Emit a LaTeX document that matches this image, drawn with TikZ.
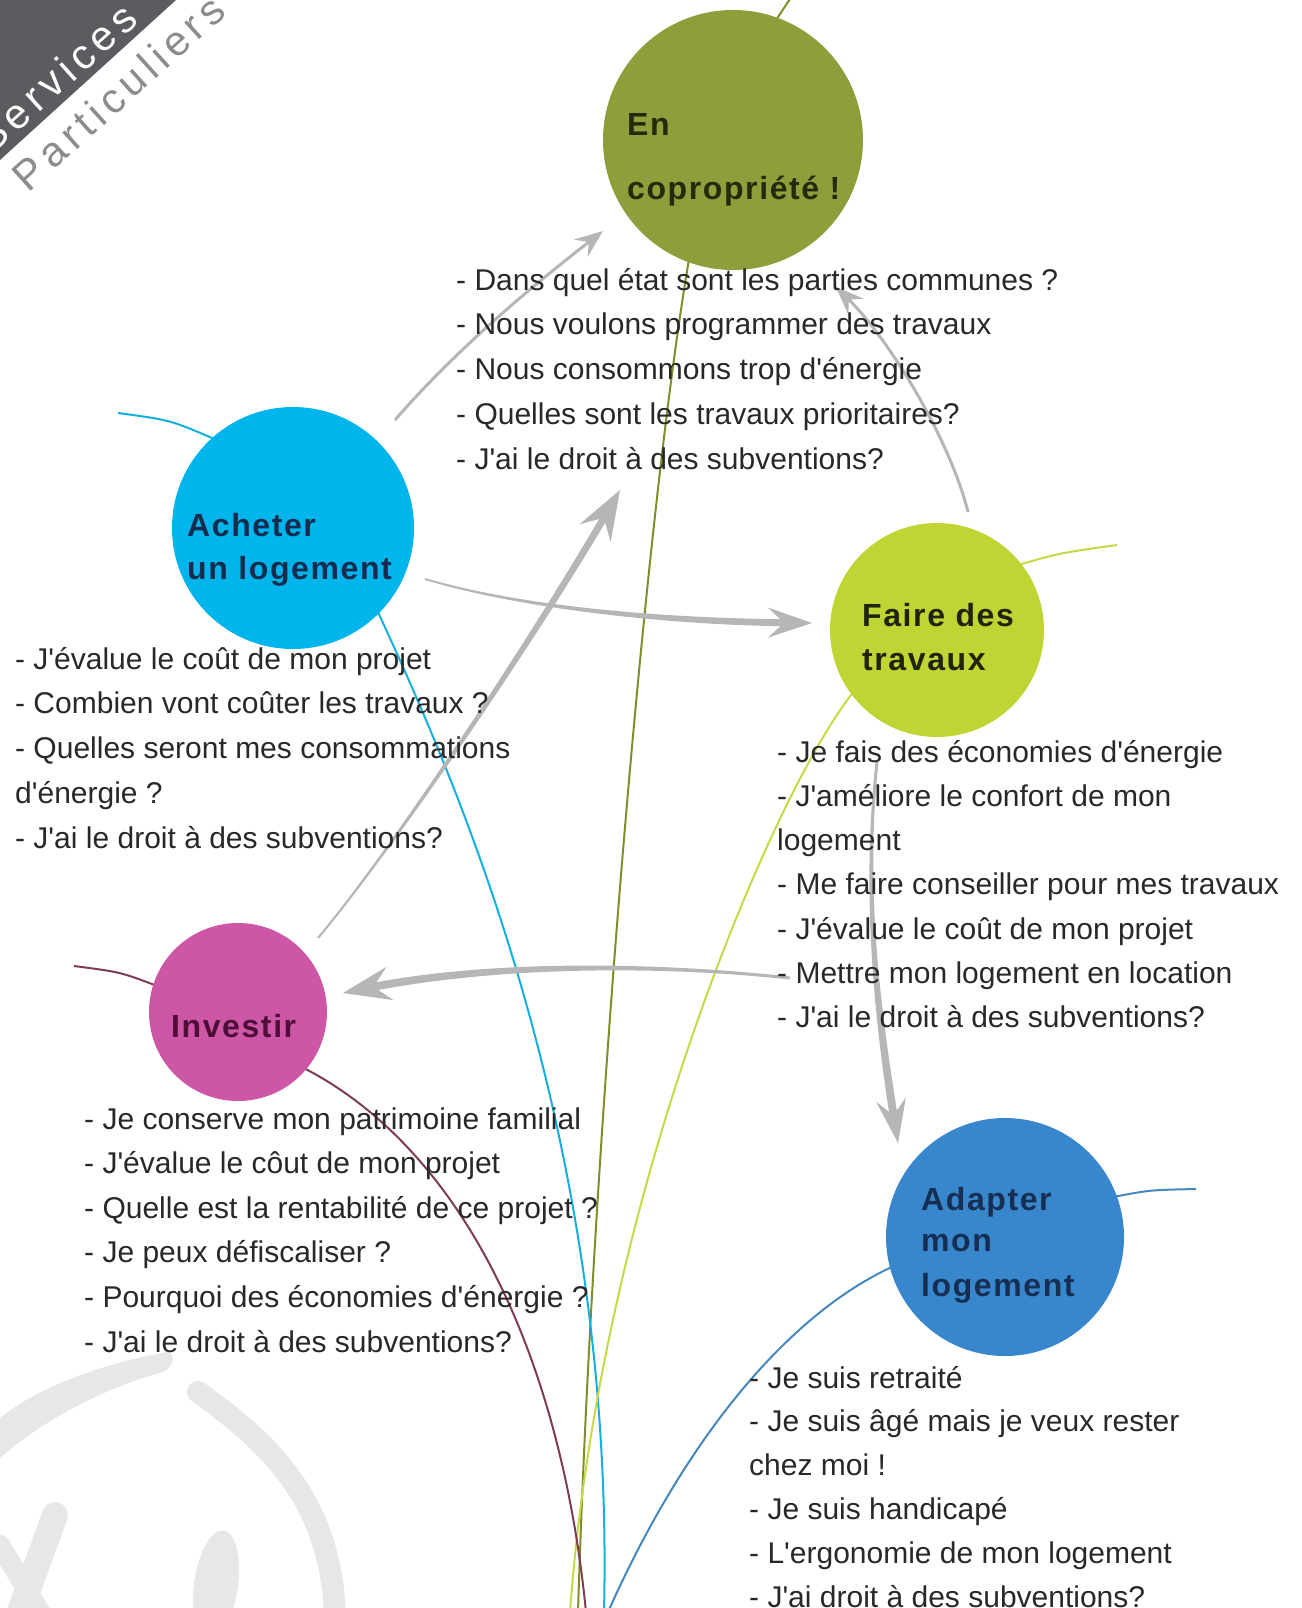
\documentclass[tikz,border=0pt]{standalone}
\usepackage{fontspec}
\setmainfont{Liberation Sans}[Ligatures=TeXOff]
\newfontfamily\labelfont{Liberation Sans}[LetterSpace=5,Ligatures=TeXOff]
\newfontfamily\logofont{Liberation Sans}[LetterSpace=13]
\usetikzlibrary{arrows.meta,calc}
\pgfdeclarelayer{bg}
\pgfsetlayers{bg,main}
\definecolor{copro}{RGB}{143,158,58}
\definecolor{achat}{RGB}{0,180,236}
\definecolor{trav}{RGB}{192,212,52}
\definecolor{inv}{RGB}{205,86,166}
\definecolor{adapt}{RGB}{56,134,204}
\definecolor{coprotxt}{RGB}{38,42,12}
\definecolor{achattxt}{RGB}{22,44,78}
\definecolor{travtxt}{RGB}{32,36,14}
\definecolor{invtxt}{RGB}{78,14,56}
\definecolor{adapttxt}{RGB}{22,46,82}
\definecolor{brcopro}{RGB}{128,142,42}
\definecolor{brachat}{RGB}{20,175,225}
\definecolor{brtrav}{RGB}{200,216,70}
\definecolor{brinv}{RGB}{125,60,80}
\definecolor{bradapt}{RGB}{70,135,190}
\definecolor{arrowgray}{RGB}{182,182,182}
\definecolor{logogray}{RGB}{92,92,96}
\definecolor{logotxt}{RGB}{140,140,142}
\definecolor{wm}{RGB}{231,231,233}
\definecolor{itemtxt}{RGB}{40,40,40}
\newcommand\grayarrow[7]{%
  \coordinate (tS) at (#1); \coordinate (tA) at (#2);
  \coordinate (tB) at (#3); \coordinate (tE) at (#4);
  \coordinate (tF) at ($(tE)!#7!(tB)$);
  \fill[arrowgray] ($(tS)!#5!90:(tA)$) .. controls ($(tA)!#5!-90:(tS)$) and ($(tB)!#6!90:(tF)$) .. ($(tF)!#6!-90:(tB)$)
    -- ($(tF)!#6!90:(tB)$) .. controls ($(tB)!#6!-90:(tF)$) and ($(tA)!#5!90:(tS)$) .. ($(tS)!#5!-90:(tA)$) -- cycle;
}
\begin{document}
\begin{tikzpicture}[x=1pt,y=-1pt,
  bubble/.style={circle, inner sep=0pt, draw=none},
  lbl/.style={anchor=base west, inner sep=0pt, font=\labelfont\bfseries\fontsize{32}{36}\selectfont},
  item/.style={anchor=base west, inner sep=0pt, text=itemtxt, font=\fontsize{30}{36}\selectfont},
  branch/.style={line width=2pt},
  thinarrow/.style={arrowgray, line width=3pt, -{Stealth[length=28pt,width=22pt,inset=10pt]}},
  tiparrow/.style={arrowgray, line width=1pt}
]
\useasboundingbox (0,0) rectangle (1301,1608);

% watermark
\fill[wm] (167,1352) .. controls (110,1362) and (40,1385) .. (0,1418) -- (0,1458)
  .. controls (45,1418) and (110,1386) .. (160,1373) .. controls (174,1369) and (177,1354) .. (167,1352) -- cycle;
\draw[wm, line width=22pt, line cap=round] (198,1392) .. controls (265,1440) and (335,1500) .. (335,1625);
\fill[wm, rotate around={-8:(216,1585)}] (216,1585) ellipse [x radius=22, y radius=55];
\draw[wm, line width=26pt, line cap=round] (55,1515) -- (15,1625);
\draw[wm, line width=20pt, line cap=round] (0,1545) -- (48,1625);

% logo
\fill[logogray] (0,0) -- (176,0) -- (0,160) -- cycle;
\node[rotate=42, anchor=base east, inner sep=0pt, text=white, font=\logofont\fontsize{42}{42}\selectfont] (logo1) at (140,22) {Services};
\node[rotate=42, anchor=base east, inner sep=0pt, text=logotxt, font=\logofont\fontsize{42}{42}\selectfont] (logo2) at (228,14) {Particuliers};

% bubbles
\node[bubble, fill=copro, minimum size=260pt] (copro) at (733,140) {};
\node[bubble, fill=achat, minimum size=242pt] (achat) at (293,528) {};
\node[bubble, fill=trav, minimum size=214pt] (trav) at (937,630) {};
\node[bubble, fill=inv, minimum size=178pt] (inv) at (238,1012) {};
\node[bubble, fill=adapt, minimum size=238pt] (adapt) at (1005,1237) {};

% bubble labels
\node[lbl, text=coprotxt] (coprol1) at (627,136) {En};
\node[lbl, text=coprotxt] (coprol2) at (627,200) {copropriété !};
\node[lbl, text=achattxt] (achatl1) at (187,536) {Acheter};
\node[lbl, text=achattxt] (achatl2) at (187,579) {un logement};
\node[lbl, text=travtxt] (travl1) at (862,626) {Faire des};
\node[lbl, text=travtxt] (travl2) at (862,670) {travaux};
\node[lbl, text=invtxt] (invl1) at (171,1037) {Investir};
\node[lbl, text=adapttxt] (adaptl1) at (921,1210) {Adapter};
\node[lbl, text=adapttxt] (adaptl2) at (921,1251) {mon};
\node[lbl, text=adapttxt] (adaptl3) at (921,1296) {logement};

% item lists
\foreach \t [count=\i from 0] in {{- Dans quel état sont les parties communes ?},{- Nous voulons programmer des travaux},{- Nous consommons trop d'énergie},{- Quelles sont les travaux prioritaires?},{- J'ai le droit à des subventions?}}
  \node[item] (cp\i) at (456,{290+44.8*\i}) {\t};
\foreach \t [count=\i from 0] in {{- J'évalue le coût de mon projet},{- Combien vont coûter les travaux ?},{- Quelles seront mes consommations},{d'énergie ?},{- J'ai le droit à des subventions?}}
  \node[item] (ac\i) at (15,{669+44.8*\i}) {\t};
\foreach \t [count=\i from 0] in {{- Je fais des économies d'énergie},{- J'améliore le confort de mon},{logement},{- Me faire conseiller pour mes travaux},{- J'évalue le coût de mon projet},{- Mettre mon logement en location},{- J'ai le droit à des subventions?}}
  \node[item] (tr\i) at (777,{762+44.3*\i}) {\t};
\foreach \t [count=\i from 0] in {{- Je conserve mon patrimoine familial},{- J'évalue le côut de mon projet},{- Quelle est la rentabilité de ce projet ?},{- Je peux défiscaliser ?},{- Pourquoi des économies d'énergie ?},{- J'ai le droit à des subventions?}}
  \node[item] (iv\i) at (84,{1129+44.6*\i}) {\t};
\foreach \t [count=\i from 0] in {{- Je suis retraité},{- Je suis âgé mais je veux rester},{chez moi !},{- Je suis handicapé},{- L'ergonomie de mon logement},{- J'ai droit à des subventions?}}
  \node[item] (ad\i) at (749,{1388+43.8*\i}) {\t};

% branch coordinates
\coordinate (rootO) at (578,1612);
\coordinate (rootT) at (570,1612);
\coordinate (rootI) at (586,1612);
\coordinate (rootA) at (604,1612);
\coordinate (rootD) at (608,1612);
\coordinate (tailO) at (792,-4);
\coordinate (tailA) at (118,413);
\coordinate (tailT) at (1117,545);
\coordinate (tailI) at (74,966);
\coordinate (tailD) at (1196,1189);

% arrow end coordinates
\coordinate (a1s) at (395,420); \coordinate (a1e) at (603,231);
\coordinate (a2s) at (318,938); \coordinate (a2e) at (620,490);
\coordinate (a3s) at (425,579); \coordinate (a3e) at (812,623);
\coordinate (a4s) at (968,512); \coordinate (a4e) at (836,287);
\coordinate (a5s) at (790,978); \coordinate (a5e) at (343,993);
\coordinate (a6s) at (877,762); \coordinate (a6e) at (898,1143);

\begin{pgfonlayer}{bg}
  % branches
  \draw[branch, brcopro] (rootO) .. controls (592,1150) and (645,520) .. (copro.-110) -- (copro.70) -- (tailO);
  \draw[branch, brachat] (rootA) .. controls (615,1150) and (465,800) .. (achat.-45) -- (achat.132) .. controls (170,420) .. (tailA);
  \draw[branch, brtrav] (rootT) .. controls (600,1200) and (770,800) .. (trav.-143) -- (trav.38) .. controls (1060,553) .. (tailT);
  \draw[branch, brinv] (rootI) .. controls (560,1350) and (460,1150) .. (inv.-40) -- (inv.162) .. controls (120,972) .. (tailI);
  \draw[branch, bradapt] (rootD) .. controls (680,1450) and (780,1320) .. (adapt.-165) -- (adapt.20) .. controls (1150,1190) .. (tailD);
  % gray arrows
  \draw[thinarrow] (a1s) .. controls (460,345) and (540,280) .. (a1e);
  \draw[thinarrow] (a4s) .. controls (950,440) and (890,340) .. (a4e);
  \grayarrow{a2s}{400,840}{545,620}{a2e}{1pt}{3.5pt}{22pt}
  \draw[tiparrow, -{Stealth[length=50pt,width=36pt,inset=18pt]}] (a2s) .. controls (400,840) and (545,620) .. (a2e);
  \grayarrow{a3s}{530,610}{680,622}{a3e}{1pt}{3.5pt}{20pt}
  \draw[tiparrow, -{Stealth[length=44pt,width=30pt,inset=16pt]}] (a3s) .. controls (530,610) and (680,622) .. (a3e);
  \grayarrow{a5s}{640,962}{480,965}{a5e}{1.5pt}{4pt}{22pt}
  \draw[tiparrow, -{Stealth[length=48pt,width=34pt,inset=17pt]}] (a5s) .. controls (640,962) and (480,965) .. (a5e);
  \grayarrow{a6s}{862,900}{880,1030}{a6e}{1.5pt}{4pt}{20pt}
  \draw[tiparrow, -{Stealth[length=44pt,width=30pt,inset=16pt]}] (a6s) .. controls (862,900) and (880,1030) .. (a6e);
\end{pgfonlayer}
\end{tikzpicture}
\end{document}
